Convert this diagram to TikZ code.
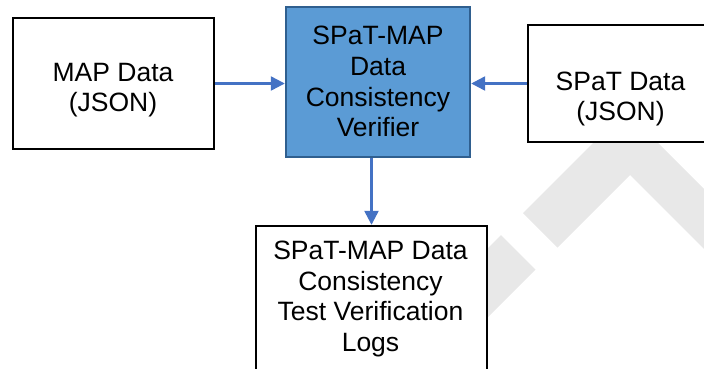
\documentclass[tikz,border=0pt]{standalone}
\usepackage{fontspec}
\setmainfont{Liberation Sans}
\usetikzlibrary{arrows.meta}
\definecolor{wmgray}{HTML}{E8E8E8}
\definecolor{corefill}{HTML}{5B9BD5}
\definecolor{coreline}{HTML}{2F5F8F}
\definecolor{flow}{HTML}{4472C4}
\tikzset{
  box/.style={draw=black, line width=2.4pt, fill=white, inner sep=0pt},
  corebox/.style={draw=coreline, line width=2.4pt, fill=corefill, inner sep=0pt},
  lbl/.style={align=center, inner sep=0pt, font=\fontsize{26.5}{30.7}\selectfont},
  flowarrow/.style={draw=flow, line width=2.4pt, -{Triangle[length=14pt,width=14pt]}}
}
\begin{document}
\begin{tikzpicture}[x=1pt, y=-1pt]
  \useasboundingbox (0,0) rectangle (704,368);
  \clip (0,0) rectangle (704,368);

  % faint background watermark strokes
  \fill[wmgray] (523,213) -- (557.5,247.5) -- (630,175) -- (760,305)
                -- (760,245) -- (625.5,110.5) -- cycle;
  \fill[wmgray] (501,235) -- (535.5,269.5) -- (385,420) -- (316,420) -- cycle;

  % boxes
  \node[box, minimum width=201pt, minimum height=131pt] (map) at (113.5,83.5) {};
  \node[corebox, minimum width=184pt, minimum height=150pt] (core) at (378,82) {};
  \node[box, minimum width=184pt, minimum height=117pt] (spat) at (620,83.5) {};
  \node[box, minimum width=231pt, minimum height=146pt] (logs) at (371.5,299) {};

  % labels
  \node[lbl] (maptxt) at (113,90) {MAP Data\\(JSON)};
  \node[lbl] (coretxt) at (378,81.8) {SPaT-MAP\\Data\\Consistency\\Verifier};
  \node[lbl] (spattxt) at (620.5,99) {SPaT Data\\(JSON)};
  \node[lbl] (logstxt) at (370.5,299) {SPaT-MAP Data\\Consistency\\Test Verification\\Logs};

  % connectors
  \draw[flowarrow] (map.east) -- (map.east -| core.west);
  \draw[flowarrow] (spat.west) -- (spat.west -| core.east);
  \draw[flowarrow] (logs.north |- core.south) -- (logs.north);
\end{tikzpicture}
\end{document}
